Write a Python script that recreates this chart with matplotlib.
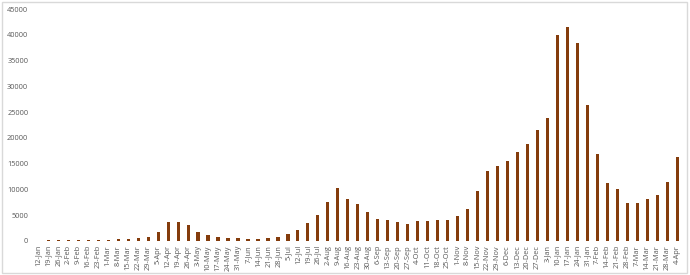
import matplotlib
matplotlib.use("Agg")
import matplotlib.pyplot as plt
from matplotlib.patches import Rectangle

weeks = ["12-Jan", "19-Jan", "26-Jan", "2-Feb", "9-Feb", "16-Feb", "23-Feb", "1-Mar", "8-Mar",
         "15-Mar", "22-Mar", "29-Mar", "5-Apr", "12-Apr", "19-Apr", "26-Apr", "3-May", "10-May",
         "17-May", "24-May", "31-May", "7-Jun", "14-Jun", "21-Jun", "28-Jun", "5-Jul", "12-Jul",
         "19-Jul", "26-Jul", "2-Aug", "9-Aug", "16-Aug", "23-Aug", "30-Aug", "6-Sep", "13-Sep",
         "20-Sep", "27-Sep", "4-Oct", "11-Oct", "18-Oct", "25-Oct", "1-Nov", "8-Nov", "15-Nov",
         "22-Nov", "29-Nov", "6-Dec", "13-Dec", "20-Dec", "27-Dec", "3-Jan", "10-Jan", "17-Jan",
         "24-Jan", "31-Jan", "7-Feb", "14-Feb", "21-Feb", "28-Feb", "7-Mar", "14-Mar", "21-Mar",
         "28-Mar", "4-Apr"]

values = [0, 150, 150, 150, 150, 200, 200, 250, 350, 450, 500, 800, 1800, 3600, 3700, 3000,
          1800, 1100, 700, 500, 500, 450, 450, 550, 800, 1400, 2200, 3400, 5000, 7500, 10200,
          8100, 7200, 5700, 4300, 4000, 3700, 3300, 3900, 3800, 4000, 4100, 4800, 6200, 9700,
          13600, 14600, 15600, 17300, 18800, 21500, 23900, 40000, 41500, 38500, 26300, 16900,
          11300, 10100, 7400, 7300, 8100, 8900, 11400, 16200]

yticks = list(range(0, 45001, 5000))

bar_color = "#843C0C"
label_color = "#595959"

fig = plt.figure(figsize=(6.9, 2.75), dpi=100)
fig.patches.append(Rectangle((0.003, 0.008), 0.993, 0.985, transform=fig.transFigure,
                             fill=False, edgecolor="#D9D9D9", linewidth=1.0))
ax = fig.add_axes([0.047, 0.124, 0.943, 0.843])

x = list(range(len(weeks)))
ax.bar(x, values, width=0.32, color=bar_color)

ax.set_xlim(-0.6, len(weeks) - 0.4)
ax.set_ylim(0, 45000)
ax.set_yticks(yticks)
ax.set_yticklabels([str(v) for v in yticks])
ax.set_xticks(x)
ax.set_xticklabels(weeks, rotation=90)

for s in ax.spines.values():
    s.set_visible(False)
ax.tick_params(axis="both", length=0, labelsize=5.3, colors=label_color, pad=3)
for lbl in ax.get_xticklabels() + ax.get_yticklabels():
    lbl.set_fontfamily("Open Sans")

fig.savefig("out.png", dpi=100)
